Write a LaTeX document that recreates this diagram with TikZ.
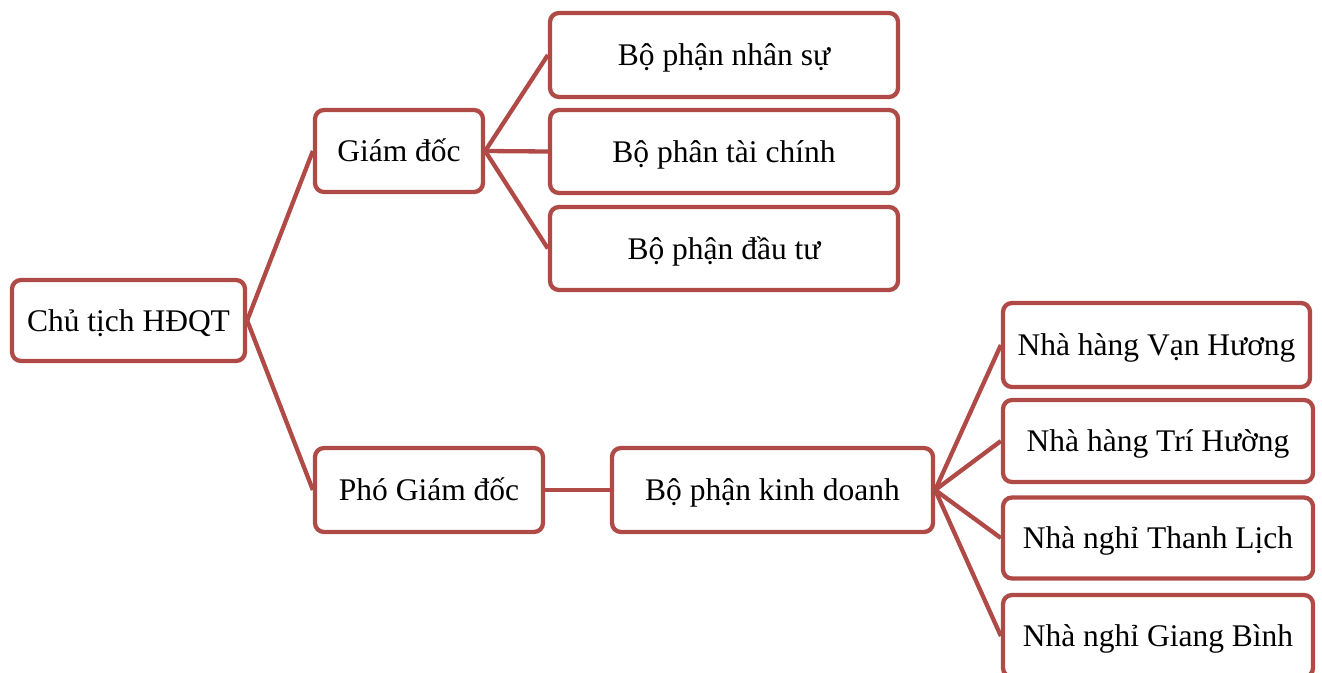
\documentclass[tikz,border=0pt]{standalone}
\usepackage{fontspec}
\setmainfont{Liberation Serif}
\definecolor{boxred}{HTML}{B04A47}
\tikzset{
  orgbox/.style={draw=boxred, line width=4.3pt, rounded corners=9pt, fill=white,
    inner sep=0pt, align=center, text height=21pt, text depth=0pt,
    font=\fontsize{31.5}{38}\selectfont},
  link/.style={draw=boxred, line width=4.3pt}
}
\begin{document}
\begin{tikzpicture}[x=1pt,y=-1pt]
\useasboundingbox (0,0) rectangle (1322,672);
\clip (0,0) rectangle (1322,672);
% nodes
\node[orgbox, minimum width=233pt, minimum height=81pt] (ct) at (128.5,320.5) {Chủ tịch HĐQT};
\node[orgbox, minimum width=168pt, minimum height=82pt] (gd) at (399,151) {Giám đốc};
\node[orgbox, minimum width=228pt, minimum height=84pt] (pgd) at (429,490) {Phó Giám đốc};
\node[orgbox, minimum width=348pt, minimum height=84pt] (ns) at (724,55) {Bộ phận nhân sự};
\node[orgbox, minimum width=348pt, minimum height=83pt] (tc) at (724,151.5) {Bộ phân tài chính};
\node[orgbox, minimum width=348pt, minimum height=83pt] (dt) at (724,248.5) {Bộ phận đầu tư};
\node[orgbox, minimum width=321pt, minimum height=84pt] (kd) at (772.5,490) {Bộ phận kinh doanh};
\node[orgbox, minimum width=307pt, minimum height=84pt] (vh) at (1156.5,345) {Nhà hàng Vạn Hương};
\node[orgbox, minimum width=310pt, minimum height=82pt] (th) at (1158,441) {Nhà hàng Trí Hường};
\node[orgbox, minimum width=310pt, minimum height=81pt] (tl) at (1158,538) {Nhà nghỉ Thanh Lịch};
\node[orgbox, minimum width=310pt, minimum height=82pt] (gb) at (1158,636) {Nhà nghỉ Giang Bình};
% connectors
\draw[link] (ct.east) -- (gd.west);
\draw[link] (ct.east) -- (pgd.west);
\draw[link] (gd.east) -- (ns.west);
\draw[link] (gd.east) -- (tc.west);
\draw[link] (gd.east) -- (dt.west);
\draw[link] (pgd.east) -- (kd.west);
\draw[link] (kd.east) -- (vh.west);
\draw[link] (kd.east) -- (th.west);
\draw[link] (kd.east) -- (tl.west);
\draw[link] (kd.east) -- (gb.west);
\end{tikzpicture}
\end{document}
